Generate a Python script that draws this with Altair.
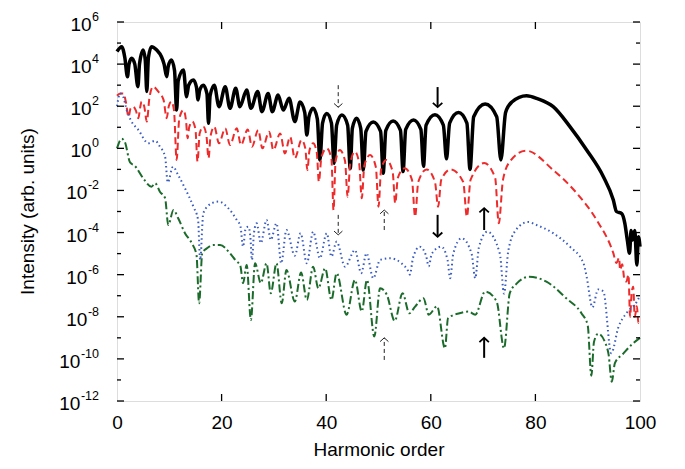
import altair as alt
import pandas as pd

# ---------------- data (harmonic order, log10 intensity) ----------------
black_h = [0.0, 0.9, 1.5, 2.0, 2.3, 2.8, 3.4, 4.0, 4.3, 5.0, 5.4, 5.7, 6.0, 6.6, 7.6, 8.5, 9.0, 9.5, 9.8, 10.4,
           11.0, 11.4, 11.7, 12.7, 13.3, 13.7, 14.6, 15.2, 15.5, 15.8, 16.5, 17.2, 17.5, 17.8, 18.6, 19.5, 20.7,
           21.6, 22.7, 23.5, 24.8, 25.6, 26.9, 27.7, 28.9, 29.7, 30.8, 31.8, 32.9, 34.0, 35.0, 35.9, 36.3, 36.7,
           37.5, 38.3, 38.8, 39.3, 40.1, 41.0, 41.5, 42.0, 43.0, 44.1, 44.6, 45.0, 45.8, 46.6, 47.1, 47.6, 49.0,
           50.4, 50.9, 51.4, 52.8, 54.2, 54.7, 55.2, 56.7, 58.1, 58.6, 59.1, 60.8, 62.4, 63.0, 63.6, 65.3, 66.9,
           67.5, 68.2, 70.4, 72.6, 73.4, 74.3, 75.5, 78.3, 80.5, 83.4, 86.6, 89.8, 93.0, 94.9, 95.5, 96.5, 97.1,
           97.6, 98.0, 98.3, 98.6, 99.0, 99.4, 99.7, 100.0]
black_v = [4.6, 4.83, 4.3, 3.4, 4.0, 4.28, 4.0, 2.93, 4.0, 4.67, 4.2, 2.7, 4.3, 4.83, 4.67, 4.35, 4.0, 3.4, 3.9, 4.2,
           3.7, 1.82, 3.2, 3.72, 2.45, 3.0, 3.25, 2.9, 2.3, 2.75, 3.0, 2.6, 1.19, 2.5, 3.0, 1.98, 2.93,
           1.9, 2.85, 1.98, 2.77, 1.9, 2.7, 1.74, 2.61, 1.74, 2.53, 1.82, 2.38, 1.27, 2.2, 1.7, 0.63, 1.5,
           1.9, 1.4, -0.55, 1.2, 1.66, 1.2, -0.71, 1.1, 1.58, 1.1, -0.95, 0.95, 1.43, 0.95, -1.03, 0.8, 1.25,
           0.8, -1.18, 0.85, 1.3, 0.85, -1.1, 0.9, 1.35, 0.9, -0.85, 1.1, 1.6, 1.1, -0.5, 1.2, 1.7, 1.2,
           -1.0, 1.5, 2.1, 1.5, -0.55, 1.7, 2.2, 2.5, 2.35, 1.98, 1.03, -0.08, -1.35, -2.45, -3.0, -3.1, -3.56,
           -4.4, -4.98, -3.9, -4.35, -3.9, -5.54, -4.2, -4.67]

red_h = [0.0, 0.6, 1.2, 1.7, 2.2, 2.6, 3.1, 3.6, 4.1, 4.4, 4.7, 5.2, 5.7, 6.2, 6.9, 7.9, 8.9, 9.5, 9.9, 10.4,
         10.9, 11.4, 11.9, 12.7, 13.2, 13.5, 13.8, 14.4, 15.0, 15.4, 15.8, 16.5, 17.1, 17.5, 17.9, 18.6, 19.5,
         20.7, 21.6, 22.9, 23.7, 25.0, 25.8, 27.0, 27.8, 29.1, 29.9, 31.2, 32.1, 33.1, 34.0, 35.3, 36.0, 36.4,
         36.8, 37.5, 38.2, 38.6, 39.1, 40.1, 41.0, 41.4, 41.8, 42.6, 43.6, 44.1, 44.6, 45.5, 46.3, 46.8, 47.3,
         48.4, 49.5, 50.0, 50.5, 51.5, 52.7, 53.2, 53.7, 55.0, 56.4, 57.0, 57.6, 59.2, 60.8, 61.4, 62.0, 63.8,
         66.2, 66.9, 67.6, 70.2, 72.3, 73.0, 73.8, 75.2, 78.2, 83.4, 87.9, 91.7, 94.9, 95.5, 96.0, 96.2, 96.6,
         97.0, 97.4, 97.8, 98.1, 98.4, 98.7, 99.0, 99.4, 99.7, 100.0]
red_v = [2.5, 2.61, 2.61, 2.2, 1.5, 1.9, 1.98, 1.8, 1.43, 1.9, 2.22, 2.0, 1.27, 2.4, 2.93, 2.69, 2.3, 1.43, 2.0, 2.22,
         1.8, -0.55, 1.4, 1.82, 1.3, 0.48, 1.0, 1.27, 0.9, -0.63, 0.7, 1.03, 0.6, -0.47, 0.6, 1.03, 0.24,
         0.95, 0.16, 0.95, 0.16, 0.9, 0.08, 0.87, 0.0, 0.79, -0.08, 0.71, -0.24, 0.55, -0.47, 0.4, 0.0, -1.03,
         -0.1, 0.24, -0.2, -1.58, -0.4, 0.0, -0.5, -2.93, -0.6, -0.08, -0.6, -2.3, -0.7, -0.16, -0.7, -2.37, -0.8,
         -0.32, -0.9, -2.77, -1.0, -0.55, -1.1, -2.61, -1.4, -0.95, -1.5, -3.25, -1.6, -1.0, -1.6, -2.77, -1.5, -1.0,
         -1.6, -3.25, -1.5, -0.7, -1.4, -3.56, -1.5, -0.6, -0.11, -1.03, -2.13, -3.4, -4.98, -5.45, -5.2, -5.78, -5.5,
         -6.2, -6.33, -6.0, -8.0, -6.9, -6.57, -8.0, -7.5, -8.3, -8.2]

blue_h = [0.0, 0.6, 1.2, 1.85, 2.8, 4.1, 6.0, 7.3, 8.2, 9.2, 9.7, 10.7, 11.7, 13.0, 14.6, 15.5, 15.9, 16.5, 18.1,
          19.4, 21.3, 22.9, 23.6, 24.1, 24.6, 25.1, 25.5, 25.8, 26.2, 26.7, 27.5, 28.6, 29.4, 30.5, 31.4, 32.4,
          34.0, 35.1, 36.3, 37.5, 38.8, 40.1, 41.0, 42.0, 43.6, 45.5, 46.7, 47.7, 49.0, 50.3, 52.2, 54.4, 55.6,
          56.0, 56.6, 57.9, 59.1, 59.6, 60.2, 62.0, 63.2, 63.7, 64.3, 65.9, 67.8, 68.5, 69.2, 70.8, 73.2, 74.0,
          74.8, 76.2, 78.6, 80.2, 83.4, 86.6, 89.2, 89.8, 90.9, 92.0, 93.0, 94.5, 95.9, 97.4, 99.4, 100.0]
blue_v = [2.0, 2.61, 2.45, 1.82, 1.27, 0.87, 0.24, 0.36, 0.08, -0.4, -1.62, -0.87, -1.27, -1.9, -2.77, -3.4, -5.3, -3.08, -2.61,
          -2.53, -2.85, -3.4, -3.7, -4.67, -3.8, -3.72, -4.2, -5.3, -4.0, -3.56, -4.5, -3.4, -4.35, -3.56, -5.46, -3.88,
          -5.1, -4.03, -5.46, -3.96, -5.22, -4.03, -5.14, -4.43, -5.62, -4.83, -5.93, -4.98, -6.17, -5.3, -5.22, -5.46, -5.8,
          -6.0, -5.2, -4.67, -5.1, -5.6, -5.0, -4.67, -5.3, -6.17, -5.0, -4.27, -5.0, -6.17, -4.7, -3.96, -5.0, -6.9,
          -4.9, -3.9, -3.5, -3.64, -4.03, -4.67, -5.46, -6.1, -7.55, -6.7, -6.8, -9.73, -8.47, -7.83, -7.28, -7.0]

green_h = [0.0, 0.9, 1.5, 2.5, 3.4, 5.0, 6.6, 7.3, 8.2, 9.2, 9.8, 10.8, 11.7, 13.0, 14.3, 15.2, 15.7, 16.3, 17.2,
           18.4, 19.7, 21.6, 22.6, 23.6, 24.1, 24.8, 25.6, 26.4, 27.5, 28.6, 29.4, 30.5, 31.5, 32.4, 34.0, 35.2,
           36.3, 37.5, 38.5, 39.8, 41.0, 42.0, 43.9, 45.5, 46.8, 47.8, 49.2, 50.3, 51.6, 53.1, 54.6, 55.9, 57.0,
           58.6, 59.6, 61.2, 62.7, 63.3, 65.5, 67.2, 68.5, 70.4, 72.6, 74.0, 75.1, 76.5, 78.8, 82.1, 85.9, 88.8,
           90.0, 90.7, 91.2, 92.0, 93.4, 94.0, 94.6, 95.2, 96.8, 98.5, 100.0]
green_v = [0.0, 0.45, 0.3, -0.67, -0.83, -1.42, -1.82, -1.66, -2.06, -2.37, -3.64, -2.93, -3.32, -4.03, -4.51, -5.06, -7.36, -4.98, -4.75,
           -4.59, -4.59, -4.98, -5.3, -5.6, -6.4, -5.54, -8.15, -5.46, -6.4, -5.46, -6.88, -5.46, -7.36, -5.78, -7.28, -5.9,
           -7.2, -5.62, -6.65, -5.7, -7.2, -5.93, -7.9, -6.25, -7.75, -6.25, -8.94, -6.65, -6.96, -8.2, -6.88, -7.83, -7.52,
           -7.12, -7.9, -7.5, -9.5, -8.07, -7.83, -7.75, -7.9, -6.8, -7.28, -9.5, -6.88, -6.4, -6.1, -6.33, -7.12, -7.83,
           -8.4, -10.8, -9.2, -8.8, -9.26, -9.8, -11.08, -10.2, -9.75, -9.3, -9.0]

# arrows: harmonic, tail (log10), head (log10), dashed?
arrow_h = [42.3, 51.1, 42.3, 51.1, 61.3, 70.2, 61.3, 70.2]
arrow_tail = [3.0, -3.88, -3.16, -10.05, 2.91, -3.88, -3.16, -9.95]
arrow_head = [1.95, -2.93, -4.11, -9.0, 1.96, -2.84, -4.2, -9.0]
arrow_dashed = [True, True, True, True, False, False, False, False]

y_exps = [6, 4, 2, 0, -2, -4, -6, -8, -10, -12]
x_ticks = [0, 20, 40, 60, 80, 100]

FONT = "Liberation Sans"
W, H = 523, 379

def series(h, v):
    return pd.DataFrame({"h": h, "I": [10.0 ** e for e in v]})

yscale = alt.Scale(type="log", domain=[1e-12, 1e6])
xscale = alt.Scale(domain=[0, 100])

X = alt.X("h:Q", scale=xscale,
          axis=alt.Axis(values=x_ticks, labelFontSize=19, labelFont=FONT, ticks=False, domain=False,
                        grid=False, labelPadding=12, labelFlush=False, title="Harmonic order", titleFont=FONT,
                        titleFontSize=19, titleFontWeight="normal", titlePadding=8, labelColor="black",
                        titleColor="black"))
Y = alt.Y("I:Q", scale=yscale,
          axis=alt.Axis(labels=False, ticks=False, domain=False, grid=False,
                        title="Intensity (arb. units)", titleFont=FONT, titleFontSize=19,
                        titleFontWeight="normal", titleX=-84, titleY=189, titleAngle=270,
                        titleBaseline="alphabetic", titleAlign="center", titleColor="black"))

INTERP = "monotone"
black = alt.Chart(series(black_h, black_v)).mark_line(color="black", strokeWidth=3.5,
                                                       interpolate=INTERP).encode(x=X, y=Y)
red = alt.Chart(series(red_h, red_v)).mark_line(color="#ee2a2a", strokeWidth=2, strokeDash=[7, 4],
                                                 interpolate=INTERP).encode(x="h:Q", y="I:Q")
blue = alt.Chart(series(blue_h, blue_v)).mark_line(color="#3a5cc0", strokeWidth=2, strokeDash=[1.5, 3],
                                                    interpolate=INTERP).encode(x="h:Q", y="I:Q")
green = alt.Chart(series(green_h, green_v)).mark_line(color="#1b6b2b", strokeWidth=2,
                                                       strokeDash=[8, 3, 2, 3],
                                                       interpolate=INTERP).encode(x="h:Q", y="I:Q")

# arrows
adf = pd.DataFrame({"h": arrow_h, "tail": [10.0 ** t for t in arrow_tail],
                    "head": [10.0 ** t for t in arrow_head], "dashed": arrow_dashed,
                    "down": [hd < tl for hd, tl in zip(arrow_head, arrow_tail)]})
shaft_d = alt.Chart(adf[adf.dashed]).mark_rule(color="#222", strokeWidth=1, strokeDash=[4, 3]).encode(
    x="h:Q", y="tail:Q", y2="head:Q")
shaft_s = alt.Chart(adf[~adf.dashed]).mark_rule(color="black", strokeWidth=2).encode(
    x="h:Q", y="tail:Q", y2="head:Q")
DOWN = "M -1 -0.9 L 0 0 L 1 -0.9"
UP = "M -1 0.9 L 0 0 L 1 0.9"
heads = []
for dashed in (True, False):
    for down in (True, False):
        sub = adf[(adf.dashed == dashed) & (adf.down == down)]
        heads.append(alt.Chart(sub).mark_point(shape=DOWN if down else UP, filled=False,
                                               color="#222" if dashed else "black",
                                               strokeWidth=1 if dashed else 1.8,
                                               size=70 if dashed else 90, opacity=1).encode(x="h:Q", y="head:Q"))

# inward ticks
major = pd.DataFrame({"I": [10.0 ** e for e in range(-12, 7, 2)]})
minor = pd.DataFrame({"I": [10.0 ** e for e in range(-11, 6, 2)]})
xt = pd.DataFrame({"h": x_ticks[1:-1]})
tick_layers = [
    alt.Chart(major).mark_rule(color="black", strokeWidth=1.3).encode(y="I:Q", x=alt.value(0), x2=alt.value(7)),
    alt.Chart(major).mark_rule(color="black", strokeWidth=1.3).encode(y="I:Q", x=alt.value(W), x2=alt.value(W - 7)),
    alt.Chart(minor).mark_rule(color="black", strokeWidth=1.3).encode(y="I:Q", x=alt.value(0), x2=alt.value(4)),
    alt.Chart(minor).mark_rule(color="black", strokeWidth=1.3).encode(y="I:Q", x=alt.value(W), x2=alt.value(W - 4)),
    alt.Chart(xt).mark_rule(color="black", strokeWidth=1.3).encode(x="h:Q", y=alt.value(H), y2=alt.value(H - 7)),
    alt.Chart(xt).mark_rule(color="black", strokeWidth=1.3).encode(x="h:Q", y=alt.value(0), y2=alt.value(7)),
]

# y tick labels 10^n
sup_w = [6.95 * len(str(abs(e))) + (4.2 if e < 0 else 0) for e in y_exps]
ylab = pd.DataFrame({"I": [10.0 ** e for e in y_exps], "sup": [str(e) for e in y_exps],
                     "xb": [-18 - w - 0.5 for w in sup_w]})
base_txt = alt.Chart(ylab).mark_text(align="right", baseline="middle", fontSize=19, font=FONT, dy=3,
                                     color="black").encode(
    x=alt.X("xb:Q", scale=None), y="I:Q", text=alt.value("10"))
sup_txt = alt.Chart(ylab).mark_text(align="right", baseline="middle", fontSize=12.5, font=FONT, dy=-5,
                                    color="black").encode(
    x=alt.value(-18), y="I:Q", text="sup:N")

chart = alt.layer(black, red, blue, green, shaft_d, shaft_s, *heads, *tick_layers, base_txt, sup_txt).properties(
    width=W, height=H, autosize=alt.AutoSizeParams(type="none"),
    padding={"left": 117, "top": 22, "right": 45, "bottom": 68}
).configure_view(stroke="black", strokeWidth=2).configure(background="white")

chart.save("out.html", embed_options={"renderer": "svg", "actions": False})
